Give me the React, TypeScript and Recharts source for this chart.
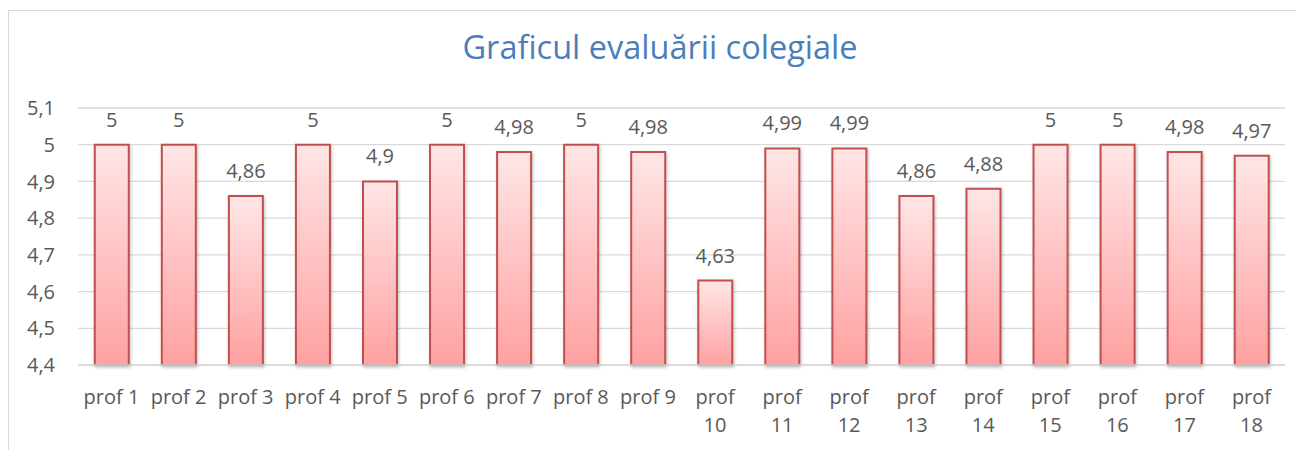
import { Bar, BarChart, CartesianGrid, LabelList, XAxis, YAxis } from "recharts";

const categories = [
    "prof 1", "prof 2", "prof 3", "prof 4", "prof 5", "prof 6", "prof 7", "prof 8", "prof 9",
    "prof 10", "prof 11", "prof 12", "prof 13", "prof 14", "prof 15", "prof 16", "prof 17", "prof 18",
];
const scores = [5, 5, 4.86, 5, 4.9, 5, 4.98, 5, 4.98, 4.63, 4.99, 4.99, 4.86, 4.88, 5, 5, 4.98, 4.97];
const yTicks = [4.4, 4.5, 4.6, 4.7, 4.8, 4.9, 5, 5.1];
const title = "Graficul evaluării colegiale";

const data = categories.map((name, i) => ({ name, value: scores[i] }));

const FONT = "'Open Sans', sans-serif";
const GRAY = "#595959";

// comma decimals, like the Romanian Excel original
const fmt = (v: number) => String(Number(v.toFixed(2))).replace(".", ",");

function WrappedTick({ x, y, payload }: any) {
    const label: string = payload.value;
    const lines = label.length > 6 ? label.split(" ") : [label];
    return (
        <text x={x} y={y} textAnchor="middle" fill={GRAY} fontSize={20} fontFamily={FONT}>
            {lines.map((ln, i) => (
                <tspan key={i} x={x} dy={i === 0 ? 39 : 28}>
                    {ln}
                </tspan>
            ))}
        </text>
    );
}

export default function App() {
    return (
        <div style={{ position: "relative", width: 1296, height: 442, fontFamily: FONT }}>
            <div style={{ position: "absolute", left: 0, top: 2, width: 1296, height: 1, background: "#d9d9d9" }} />
            <div style={{ position: "absolute", left: 0, top: 2, width: 1, height: 440, background: "#d9d9d9" }} />
            <div
                style={{
                    position: "absolute",
                    left: 652,
                    top: 16,
                    transform: "translateX(-50%)",
                    whiteSpace: "nowrap",
                    fontSize: 32.5,
                    color: "#4a7ebb",
                    lineHeight: "normal",
                }}
            >
                {title}
            </div>
            <BarChart
                width={1296}
                height={442}
                data={data}
                margin={{ top: 100, right: 19, left: 0, bottom: 0 }}
                barCategoryGap="25%"
            >
                <defs>
                    <linearGradient id="barFill" x1="0" y1="0" x2="0" y2="1">
                        <stop offset="0%" stopColor="#ffe6e6" />
                        <stop offset="100%" stopColor="#ffa1a1" />
                    </linearGradient>
                    <filter id="barShadow" x="-20%" y="-5%" width="140%" height="115%">
                        <feDropShadow dx="1" dy="1.5" stdDeviation="1.5" floodColor="#000" floodOpacity="0.25" />
                    </filter>
                </defs>
                <CartesianGrid vertical={false} stroke="#d9d9d9" strokeWidth={1.3} />
                <XAxis
                    dataKey="name"
                    interval={0}
                    height={85}
                    tickSize={0}
                    tickMargin={0}
                    axisLine={{ stroke: "#d9d9d9", strokeWidth: 1.3 }}
                    tickLine={false}
                    tick={<WrappedTick />}
                />
                <YAxis
                    domain={[4.4, 5.1]}
                    ticks={yTicks}
                    width={70}
                    tickSize={0}
                    tickMargin={23}
                    axisLine={false}
                    tickLine={false}
                    tickFormatter={fmt}
                    tick={{ fill: GRAY, fontSize: 20, fontFamily: FONT }}
                />
                <Bar
                    dataKey="value"
                    fill="url(#barFill)"
                    stroke="#c0504d"
                    strokeWidth={2}
                    filter="url(#barShadow)"
                    isAnimationActive={false}
                >
                    <LabelList
                        dataKey="value"
                        position="top"
                        offset={18}
                        formatter={(v: any) => fmt(Number(v))}
                        fill={GRAY}
                        fontSize={20}
                        fontFamily={FONT}
                    />
                </Bar>
            </BarChart>
        </div>
    );
}
